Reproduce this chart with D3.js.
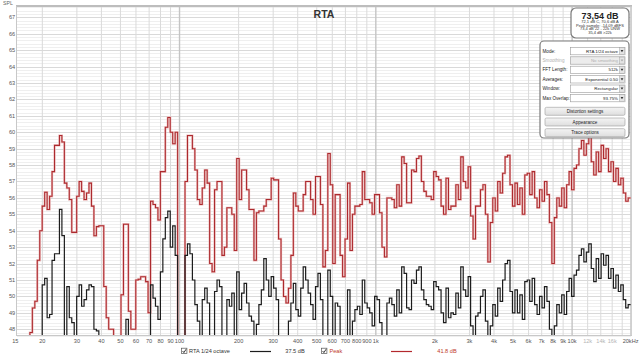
<!DOCTYPE html>
<html><head><meta charset="utf-8">
<script src="https://cdn.jsdelivr.net/npm/d3@7"></script>
<style>
html,body{margin:0;padding:0;background:#fff;}
svg{display:block;font-family:"Liberation Sans",Arial,sans-serif;}
</style></head><body>
<svg id="c" width="640" height="356"></svg>
<script>
// ---- data ----
const binsPerOctave = 24;          // RTA 1/24 octave
const firstBin = -145;             // bin index relative to 1 kHz
// Peak trace (red), one value per 1/24-octave band from ~15 Hz
const peakLevels = [
 46,46,46,46,46,47.8,49.3,49.7,52.2,54.0,
 55.5,56.35,55.3,56.1,57.6,59.2,59.2,59.8,59.4,56.9,
 56.6,55.9,53.9,53.9,56.1,57.0,56.4,55.9,56.3,56.9,
 55.5,53.7,54.25,54.3,54.3,50.6,48.7,48.0,48.0,46,
 46,46,50.1,54.4,54.4,49.1,48.0,48.0,51.0,51.05,
 51.2,51.2,50.9,49.0,55.8,55.6,55.4,54.65,57.6,57.6,
 60.3,60.9,60.0,59.3,60.0,46,46,46,57.0,59.8,
 59.8,59.0,57.7,55.9,55.6,56.6,57.7,56.9,52.0,51.5,
 56.5,57.0,57.0,52.5,53.0,55.4,55.4,55.0,52.8,58.4,
 55.9,57.7,57.7,56.5,55.3,55.3,52.2,55.1,55.2,55.2,
 55.5,55.9,55.9,57.2,57.1,57.1,53.5,51.0,50.0,49.6,
 50.5,52.5,56.3,55.5,55.2,55.2,56.2,57.0,57.0,55.9,
 55.0,57.3,57.3,55.6,51.8,52.8,58.7,56.8,52.0,56.2,
 56.2,52.5,51.2,53.5,56.9,52.8,55.0,55.5,55.5,55.6,
 57.6,55.9,55.9,55.7,55.0,56.2,56.2,55.1,53.0,52.4,
 56.0,56.0,55.9,55.4,56.8,55.5,58.5,58.1,55.7,55.7,
 57.7,57.6,58.4,58.55,57.0,56.4,56.1,56.1,55.9,57.6,
 57.3,57.1,55.5,55.0,57.2,55.3,55.5,55.5,56.8,55.9,
 58.5,57.0,56.6,57.9,54.9,53.5,55.5,55.5,56.5,56.8,
 55.0,52.1,54.5,56.0,55.2,57.0,56.3,57.5,58.5,58.6,
 56.8,55.5,56.9,55.6,56.6,55.0,57.4,57.5,56.2,57.6,
 56.0,55.4,56.5,55.8,57.0,56.2,54.5,52.0,54.8,56.0,
 55.5,56.6,55.4,56.8,57.6,56.5,57.8,58.0,59.0,59.5,
 58.6,59.3,59.8,58.2,57.4,58.8,57.6,59.2,58.4,59.0,
 57.6,58.2,57.0,57.8,56.8,57.2,56.3,55.8,56.0
];
// RTA trace (black)
const rtaLevels = [
 46,46,46,46,46,46,46,46,46,46,
 50.7,51.1,48.7,48.9,52.2,52.6,52.6,55.3,53.7,46,
 50.6,48.7,48.4,46,50.0,50.7,49.4,49.8,50.4,50.7,
 50.6,48.0,47.9,46,46,46,46,46,46,46,
 46,46,46,46,48.6,46,46,46,46,46,
 46,46,46,46,50.7,49.9,49.4,48.6,51.5,53.5,
 54.8,55.2,53.0,54.3,52.5,46,46,46,52.5,53.2,
 52.6,51.0,49.5,48.5,46,49.8,50.5,49.6,46,46,
 50.3,51.0,50.6,46,46,49.8,49.4,50.2,46,51.5,
 49.2,50.2,50.8,49.6,48.8,48.5,46,48.3,49.5,50.4,
 52.3,51.0,50.0,51.2,50.5,49.8,46,46,46,46,
 48.5,49.6,50.8,49.2,48.8,50.5,51.8,51.0,50.2,49.5,
 48.6,50.6,51.4,49.8,46,46,51.6,50.0,46,49.6,
 49.4,46,46,46,50.4,46,48.5,49.2,49.4,48.9,
 51.0,49.6,49.3,49.0,48.2,50.0,49.8,48.4,46,46,
 49.6,49.9,49.5,48.8,50.4,49.0,51.8,51.4,49.3,49.2,
 51.0,50.8,51.6,51.8,50.4,49.8,49.5,49.4,49.2,50.9,
 50.6,50.4,49.0,48.4,50.5,48.7,49.0,48.9,50.2,49.3,
 51.8,50.4,50.0,51.2,48.2,46,48.8,49.0,50.0,50.4,
 48.5,46,48.2,49.5,48.8,50.5,49.7,51.0,52.0,52.2,
 50.3,49.0,50.4,49.0,50.1,48.6,50.9,51.0,49.7,51.1,
 49.5,48.9,50.0,49.3,50.6,49.7,48.0,46,48.2,49.5,
 49.0,50.1,48.9,50.3,51.1,50.0,51.3,51.6,52.5,52.9,
 52.1,52.7,53.2,51.7,50.9,52.3,51.1,52.6,51.9,52.5,
 51.1,51.7,50.5,51.3,50.3,50.7,49.8,49.3,49.5
];
const yTickValues = [48,49,50,51,52,53,54,55,56,57,58,59,60,61,62,63,64,65,66,67];
const xTickValues = [15,20,30,40,50,60,70,80,90,100,200,300,400,500,600,700,800,900,1000,2000,3000,4000,5000,6000,7000,8000,9000,10000,12000,14000,16000,20000];
const xTickLabels = ["15","20","30","40","50","60","70","80","90","100","200","300","400","500","600","700","800","900","1k","2k","3k","4k","5k","6k","7k","8k","9k","10k","12k","14k","16k","20kHz"];
const faintXLabels = ["12k","14k","16k"];
const gridFreqs = [20,30,40,50,60,70,80,90,100,200,300,400,500,600,700,800,900,1000,2000,3000,4000,5000,6000,7000,8000,9000,10000,12000,14000,16000,18000,20000];
const decadeFreqs = [100,1000,10000];
const legendNames = ["RTA 1/24 octave","Peak"];
const legendValues = ["37.5 dB","41.8 dB"];
const infoMain = "73,54 dB";
const infoLines = ["72,1 dB C, 70,6 dB A","Peak sample: -14,09 dBFS","73,4 dB 22 - 22k UNW","35,4 dB >22k"];
const panelLabels = ["Mode:","Smoothing","FFT Length:","Averages:","Window:","Max Overlap:"];
const panelValues = ["RTA 1/24 octave","No smoothing","512k","Exponential 0.50","Rectangular","93.75%"];
const panelButtons = ["Distortion settings","Appearance","Trace options"];

// ---- chart ----
const svg = d3.select("#c");
const L = 17.8, R = 631.2, T = 6, B = 335;
const x = d3.scaleLog().domain([15, 20000]).range([L, R]);
const y = d3.scaleLinear().domain([47.65, 67.69]).range([B, T]);

const defs = svg.append("defs");
defs.append("clipPath").attr("id","plotclip").append("rect")
  .attr("x", 17).attr("y", T).attr("width", 631 - 17).attr("height", B - T);
const grad = defs.append("linearGradient").attr("id","btn").attr("x1",0).attr("y1",0).attr("x2",0).attr("y2",1);
grad.append("stop").attr("offset","0").attr("stop-color","#f4f4f4");
grad.append("stop").attr("offset","1").attr("stop-color","#dedede");

const grid = svg.append("g");
const minor = d3.range(476, 677, 2).map(d => d / 10);
grid.selectAll(".hm").data(minor).join("line")
  .attr("x1", 17).attr("x2", 631)
  .attr("y1", d => Math.round(y(d)) + 0.5).attr("y2", d => Math.round(y(d)) + 0.5)
  .attr("stroke", d => Math.abs(d - Math.round(d)) < 1e-6 ? "#d9d9d9" : "#efefef")
  .attr("stroke-width", 1);
grid.selectAll(".vg").data(gridFreqs).join("line")
  .attr("x1", d => x(d)).attr("x2", d => x(d))
  .attr("y1", T).attr("y2", B)
  .attr("stroke", d => decadeFreqs.includes(d) ? "#c4c4c4" : "#dadada")
  .attr("stroke-width", d => decadeFreqs.includes(d) ? 1.4 : 1);

// frame
svg.append("line").attr("x1",16).attr("x2",632).attr("y1",6).attr("y2",6).attr("stroke","#bdbdbd").attr("stroke-width",2);
svg.append("line").attr("x1",16.5).attr("x2",16.5).attr("y1",6).attr("y2",B).attr("stroke","#c8c8c8").attr("stroke-width",1);
svg.append("line").attr("x1",631).attr("x2",631).attr("y1",6).attr("y2",B).attr("stroke","#c8c8c8").attr("stroke-width",1.5);
svg.append("line").attr("x1",16).attr("x2",632).attr("y1",B+0.5).attr("y2",B+0.5).attr("stroke","#c8c8c8").attr("stroke-width",1);

// y ticks
svg.append("g").selectAll("text").data(yTickValues).join("text")
  .attr("x", 12).attr("y", d => y(d) + 2)
  .attr("text-anchor","middle").attr("font-size", 5.6).attr("fill","#555")
  .text(d => d);
svg.append("text").attr("x", 3).attr("y", 5).attr("font-size", 5.2).attr("fill","#666").text("SPL");

// x ticks
const last = xTickValues.length - 1;
svg.append("g").selectAll("text").data(xTickValues).join("text")
  .attr("x", (d,i) => i === 0 ? x(d) - 2.5 : (i === last ? 638.5 : x(d)))
  .attr("y", 343).attr("text-anchor", (d,i) => i === last ? "end" : "middle").attr("font-size", 5.6)
  .attr("fill", (d,i) => faintXLabels.includes(xTickLabels[i]) ? "#b5b5b5" : "#555")
  .text((d,i) => xTickLabels[i]);

// title
svg.append("text").attr("x", 324).attr("y", 17.5).attr("text-anchor","middle")
  .attr("font-size", 10.5).attr("font-weight","bold").attr("fill","#333").text("RTA");

// traces
function stepPoints(levels) {
  const pts = [];
  levels.forEach((v, i) => {
    const fc = 1000 * Math.pow(2, (firstBin + i) / binsPerOctave);
    const lo = fc * Math.pow(2, -0.5 / binsPerOctave), hi = fc * Math.pow(2, 0.5 / binsPerOctave);
    pts.push([lo, v], [hi, v]);
  });
  return pts;
}
const line = d3.line().x(d => x(d[0])).y(d => y(d[1]));
const traces = svg.append("g").attr("clip-path","url(#plotclip)");
traces.append("path").attr("d", line(stepPoints(peakLevels)))
  .attr("fill","none").attr("stroke","#ecbcbc").attr("stroke-width",2.2);
traces.append("path").attr("d", line(stepPoints(peakLevels)))
  .attr("fill","none").attr("stroke","#ac2a2e").attr("stroke-width",1.05);
traces.append("path").attr("d", line(stepPoints(rtaLevels)))
  .attr("fill","none").attr("stroke","#1c1c1c").attr("stroke-width",1.2);

// info box
const ib = svg.append("g");
ib.append("rect").attr("x", 571).attr("y", 8).attr("width", 58).attr("height", 30).attr("rx", 5)
  .attr("fill","#fff").attr("stroke","#7a7a7a").attr("stroke-width",1.2);
ib.append("text").attr("x", 600).attr("y", 18.5).attr("text-anchor","middle").attr("font-size", 9)
  .attr("font-weight","bold").attr("fill","#222").text(infoMain);
ib.selectAll(".il").data(infoLines).join("text")
  .attr("x", 600).attr("y", (d,i) => 23 + i * 3.7).attr("text-anchor","middle")
  .attr("font-size", 4).attr("fill","#333").text(d => d);

// control panel
const pn = svg.append("g");
pn.append("rect").attr("x", 540).attr("y", 41).attr("width", 89).attr("height", 97).attr("rx", 4)
  .attr("fill","#fff").attr("stroke","#7a7a7a").attr("stroke-width",1.2);
panelLabels.forEach((lab, i) => {
  const cy = 51 + i * 9.4;
  const dis = i === 1;
  pn.append("text").attr("x", 542.5).attr("y", cy + 1.6).attr("font-size", 4.6)
    .attr("fill", dis ? "#b0b0b0" : "#222").text(lab);
  pn.append("rect").attr("x", 570.5).attr("y", cy - 3.6).attr("width", 54.5).attr("height", 7.4)
    .attr("fill", dis ? "#ececec" : "#fff").attr("stroke", "#9a9a9a").attr("stroke-width", 0.6);
  pn.append("text").attr("x", 618).attr("y", cy + 1.6).attr("text-anchor","end").attr("font-size", 4.4)
    .attr("fill", dis ? "#b0b0b0" : "#222").text(panelValues[i]);
  pn.append("rect").attr("x", 619.3).attr("y", cy - 3.3).attr("width", 5.4).attr("height", 6.8)
    .attr("fill", "#e4e4e4").attr("stroke","#9a9a9a").attr("stroke-width",0.4);
  pn.append("path").attr("d", `M${620.6},${cy-1} L${623.4},${cy-1} L${622},${cy+1.2} Z`).attr("fill", dis ? "#aaa" : "#333");
});
panelButtons.forEach((lab, i) => {
  const cy = 111.3 + i * 10.7;
  pn.append("rect").attr("x", 545).attr("y", cy - 4).attr("width", 80).attr("height", 8).attr("rx", 1.5)
    .attr("fill","url(#btn)").attr("stroke","#9a9a9a").attr("stroke-width",0.6);
  pn.append("text").attr("x", 585).attr("y", cy + 1.6).attr("text-anchor","middle").attr("font-size", 4.6)
    .attr("fill","#222").text(lab);
});

// legend
const lg = svg.append("g");
function checkbox(cx, cy) {
  lg.append("rect").attr("x", cx).attr("y", cy - 2.8).attr("width", 5.4).attr("height", 5.4)
    .attr("fill","#fff").attr("stroke","#555").attr("stroke-width",0.7);
  lg.append("path").attr("d", `M${cx+1.1},${cy} L${cx+2.4},${cy+1.6} L${cx+4.6},${cy-1.8}`)
    .attr("fill","none").attr("stroke","#222").attr("stroke-width",0.9);
}
checkbox(181.5, 351);
lg.append("text").attr("x", 189).attr("y", 353).attr("font-size", 5.6).attr("fill","#333").text(legendNames[0]);
lg.append("line").attr("x1", 250).attr("x2", 271).attr("y1", 351.5).attr("y2", 351.5).attr("stroke","#1c1c1c").attr("stroke-width",1.2);
lg.append("text").attr("x", 295).attr("y", 353).attr("text-anchor","middle").attr("font-size", 5.6).attr("fill","#333").text(legendValues[0]);
checkbox(321.5, 351);
lg.append("text").attr("x", 329.5).attr("y", 353).attr("font-size", 5.6).attr("fill","#c0392b").text(legendNames[1]);
lg.append("line").attr("x1", 391).attr("x2", 412).attr("y1", 351.5).attr("y2", 351.5).attr("stroke","#b3282d").attr("stroke-width",1.2);
lg.append("text").attr("x", 447).attr("y", 353).attr("text-anchor","middle").attr("font-size", 5.6).attr("fill","#c0392b").text(legendValues[1]);
</script>
</body></html>
